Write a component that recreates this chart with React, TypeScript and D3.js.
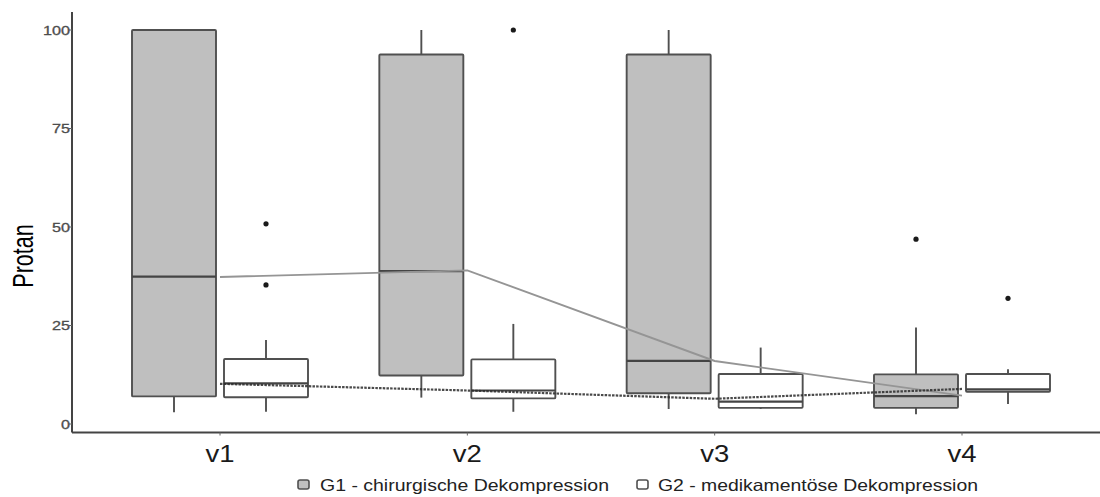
import React from "react";
import * as d3 from "d3";

const categories = ["v1", "v2", "v3", "v4"];
const groups = ["G1 - chirurgische Dekompression", "G2 - medikamentöse Dekompression"];

// G1 box stats
const g1Low = [3, 6.7, 3.8, 2.5];
const g1Q1 = [7, 12.3, 7.8, 4.1];
const g1Med = [37.4, 38.8, 16, 7.1];
const g1Q3 = [100, 93.8, 93.8, 12.6];
const g1High = [100, 100, 100, 24.5];
const g1Outliers = [[], [], [], [46.9]];

// G2 box stats
const g2Low = [3.1, 3.1, 3.8, 5.1];
const g2Q1 = [6.8, 6.5, 4.1, 8.2];
const g2Med = [10.3, 8.5, 5.7, 8.8];
const g2Q3 = [16.5, 16.4, 12.7, 12.7];
const g2High = [21.3, 25.4, 19.4, 13.9];
const g2Outliers = [[50.8, 35.3], [100], [], [31.9]];

// Trend lines through categories
const g1Trend = [37.3, 39.0, 16.0, 7.2];
const g2Trend = [10.2, 8.5, 6.4, 8.9];

const yTicks = [0, 25, 50, 75, 100];

const W = 1100;
const H = 497;
const left = 72;
const right = 1100;
const axisY = 432.5;

export default function App() {
  const y = d3.scaleLinear().domain([0, 100]).range([424, 30]);
  const x = d3.scalePoint<string>().domain(categories).range([220, 962]);
  const dodge = 46;
  const boxW = 84;

  const boxStats = [
    { low: g1Low, q1: g1Q1, med: g1Med, q3: g1Q3, high: g1High, out: g1Outliers, fill: "#bfbfbf", off: -dodge },
    { low: g2Low, q1: g2Q1, med: g2Med, q3: g2Q3, high: g2High, out: g2Outliers, fill: "#ffffff", off: dodge },
  ];

  const line = d3
    .line<number>()
    .x((_, i) => x(categories[i]) as number)
    .y((d) => y(d));

  const stroke = "#505050";
  const font = "Liberation Sans, Arial, sans-serif";

  return (
    <svg width={W} height={H} style={{ position: "absolute", left: 0, top: 0, background: "#fff" }}>
      {/* boxes */}
      {boxStats.map((g, gi) =>
        categories.map((c, i) => {
          const cx = (x(c) as number) + g.off;
          return (
            <g key={`${gi}-${c}`}>
              <line x1={cx} x2={cx} y1={y(g.q3[i])} y2={y(g.high[i])} stroke={stroke} strokeWidth={1.9} />
              <line x1={cx} x2={cx} y1={y(g.q1[i])} y2={y(g.low[i])} stroke={stroke} strokeWidth={1.9} />
              <rect
                x={cx - boxW / 2}
                y={y(g.q3[i])}
                width={boxW}
                height={y(g.q1[i]) - y(g.q3[i])}
                fill={g.fill}
                stroke={stroke}
                strokeWidth={1.9}
                rx={1}
              />
              <line
                x1={cx - boxW / 2}
                x2={cx + boxW / 2}
                y1={y(g.med[i])}
                y2={y(g.med[i])}
                stroke="#444"
                strokeWidth={2.2}
              />
              {g.out[i].map((o, k) => (
                <circle key={k} cx={cx} cy={y(o)} r={2.6} fill="#1a1a1a" />
              ))}
            </g>
          );
        })
      )}

      {/* trend lines */}
      <path d={line(g1Trend) || ""} fill="none" stroke="#959595" strokeWidth={1.9} />
      <path d={line(g2Trend) || ""} fill="none" stroke="#2a2a2a" strokeWidth={2.2} strokeDasharray="2.5,1.2" opacity={0.85} />

      {/* y axis */}
      <line x1={left} x2={left} y1={12} y2={axisY} stroke="#444" strokeWidth={2} />
      {yTicks.map((t) => (
        <g key={t}>
          <line x1={left - 3} x2={left} y1={y(t)} y2={y(t)} stroke="#666" strokeWidth={1} />
          <text
            x={left - 2}
            y={y(t) + 4.5}
            textAnchor="end"
            fontFamily={font}
            fontSize={12.5}
            fill="#4d4d4d"
            stroke="#4d4d4d"
            strokeWidth={0.3}
            textLength={String(t).length * 9}
            lengthAdjust="spacingAndGlyphs"
          >
            {t}
          </text>
        </g>
      ))}
      <text
        transform={`translate(33, 256) scale(1.35,1) rotate(-90)`}
        textAnchor="middle"
        fontFamily={font}
        fontSize={21.5}
        fill="#000"
      >
        Protan
      </text>

      {/* x axis */}
      <line x1={left} x2={right} y1={axisY} y2={axisY} stroke="#444" strokeWidth={2} />
      {categories.map((c) => (
        <g key={c}>
          <line x1={x(c)} x2={x(c)} y1={axisY} y2={axisY + 3} stroke="#666" strokeWidth={1} />
          <text
            x={x(c)}
            y={462}
            textAnchor="middle"
            fontFamily={font}
            fontSize={23.5}
            fill="#1a1a1a"
            textLength={29}
            lengthAdjust="spacingAndGlyphs"
          >
            {c}
          </text>
        </g>
      ))}

      {/* legend */}
      {groups.map((gname, i) => {
        const kx = i === 0 ? 298 : 637;
        const tx = i === 0 ? 320 : 658;
        const tl = i === 0 ? 289 : 320;
        return (
          <g key={gname}>
            <rect x={kx} y={480} width={11} height={9} rx={2} fill={boxStats[i].fill} stroke={stroke} strokeWidth={1.6} />
            <text
              x={tx}
              y={491}
              fontFamily={font}
              fontSize={16.5}
              fill="#222"
              textLength={tl}
              lengthAdjust="spacingAndGlyphs"
            >
              {gname}
            </text>
          </g>
        );
      })}
    </svg>
  );
}
